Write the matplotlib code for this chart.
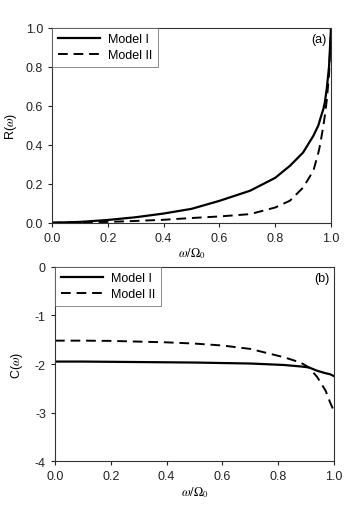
import matplotlib
matplotlib.use("Agg")
import matplotlib.pyplot as plt
import numpy as np

plt.rcParams['font.family'] = ['Liberation Sans', 'DejaVu Sans']
plt.rcParams['mathtext.fontset'] = 'stix'
plt.rcParams['axes.unicode_minus'] = False

# panel (a): R(omega)
w_a = [0.0, 0.1, 0.2, 0.3, 0.4, 0.5, 0.6, 0.71, 0.8, 0.853, 0.9, 0.937, 0.955, 0.961, 0.973, 0.978, 0.985, 0.993, 1.0]
r_model1 = [0.0, 0.004, 0.014, 0.028, 0.047, 0.071, 0.112, 0.164, 0.230, 0.292, 0.360, 0.446, 0.500, 0.530, 0.585, 0.617, 0.690, 0.800, 1.0]
r_model2 = [0.0, 0.001, 0.004, 0.009, 0.015, 0.024, 0.032, 0.044, 0.078, 0.113, 0.180, 0.267, 0.360, 0.400, 0.500, 0.550, 0.630, 0.760, 1.0]

# panel (b): C(omega)
w_b = [0.0, 0.1, 0.2, 0.3, 0.4, 0.5, 0.6, 0.7, 0.82, 0.88, 0.91, 0.94, 0.97, 0.986, 1.0]
c_model1 = [-1.95, -1.95, -1.955, -1.96, -1.965, -1.97, -1.98, -1.99, -2.02, -2.05, -2.07, -2.14, -2.19, -2.21, -2.25]
c_model2 = [-1.52, -1.52, -1.525, -1.54, -1.555, -1.58, -1.62, -1.69, -1.86, -1.97, -2.07, -2.27, -2.55, -2.79, -2.97]

fig = plt.figure(figsize=(3.49, 5.10), dpi=100)
ax1 = fig.add_axes([52/349, 1 - 223.7/510, 279/349, 195/510])
ax2 = fig.add_axes([55/349, 1 - 462.3/510, 279/349, 194.6/510])

ax1.plot(w_a, r_model1, color='black', lw=1.6, label='Model I')
ax1.plot(w_a, r_model2, color='black', lw=1.4, ls=(0, (5, 3)), label='Model II')
ax1.set_xlim(0, 1)
ax1.set_ylim(0, 1)
ax1.set_xticks(np.arange(0, 1.01, 0.2))
ax1.set_yticks(np.arange(0, 1.01, 0.2))
ax1.xaxis.set_major_formatter(matplotlib.ticker.FormatStrFormatter('%.1f'))
ax1.yaxis.set_major_formatter(matplotlib.ticker.FormatStrFormatter('%.1f'))
ax1.set_xlabel(r'$\omega/\Omega_0$', fontsize=9, labelpad=1)
ax1.set_ylabel(r'R($\omega$)', fontsize=9, labelpad=5)
ax1.text(0.985, 0.975, '(a)', transform=ax1.transAxes, ha='right', va='top', fontsize=9)

ax2.plot(w_b, c_model1, color='black', lw=1.6, label='Model I')
ax2.plot(w_b, c_model2, color='black', lw=1.4, ls=(0, (5, 3)), label='Model II')
ax2.set_xlim(0, 1)
ax2.set_ylim(-4, 0)
ax2.set_xticks(np.arange(0, 1.01, 0.2))
ax2.set_yticks([0, -1, -2, -3, -4])
ax2.xaxis.set_major_formatter(matplotlib.ticker.FormatStrFormatter('%.1f'))
ax2.set_xlabel(r'$\omega/\Omega_0$', fontsize=9, labelpad=1)
ax2.set_ylabel(r'C($\omega$)', fontsize=9, labelpad=7)
ax2.text(0.985, 0.975, '(b)', transform=ax2.transAxes, ha='right', va='top', fontsize=9)

for ax in (ax1, ax2):
    ax.tick_params(direction='out', length=3, width=0.8, labelsize=9, colors='#222222',
                   top=False, right=False)
    for s in ax.spines.values():
        s.set_linewidth(0.8)
        s.set_color('#333333')
    leg = ax.legend(loc='upper left', fontsize=9, frameon=True, fancybox=False,
                    borderaxespad=0, handlelength=3.4, handletextpad=0.6,
                    borderpad=0.45, labelspacing=0.3)
    leg.get_frame().set_edgecolor('#555555')
    leg.get_frame().set_linewidth(0.6)

fig.savefig('out.png', dpi=100)
